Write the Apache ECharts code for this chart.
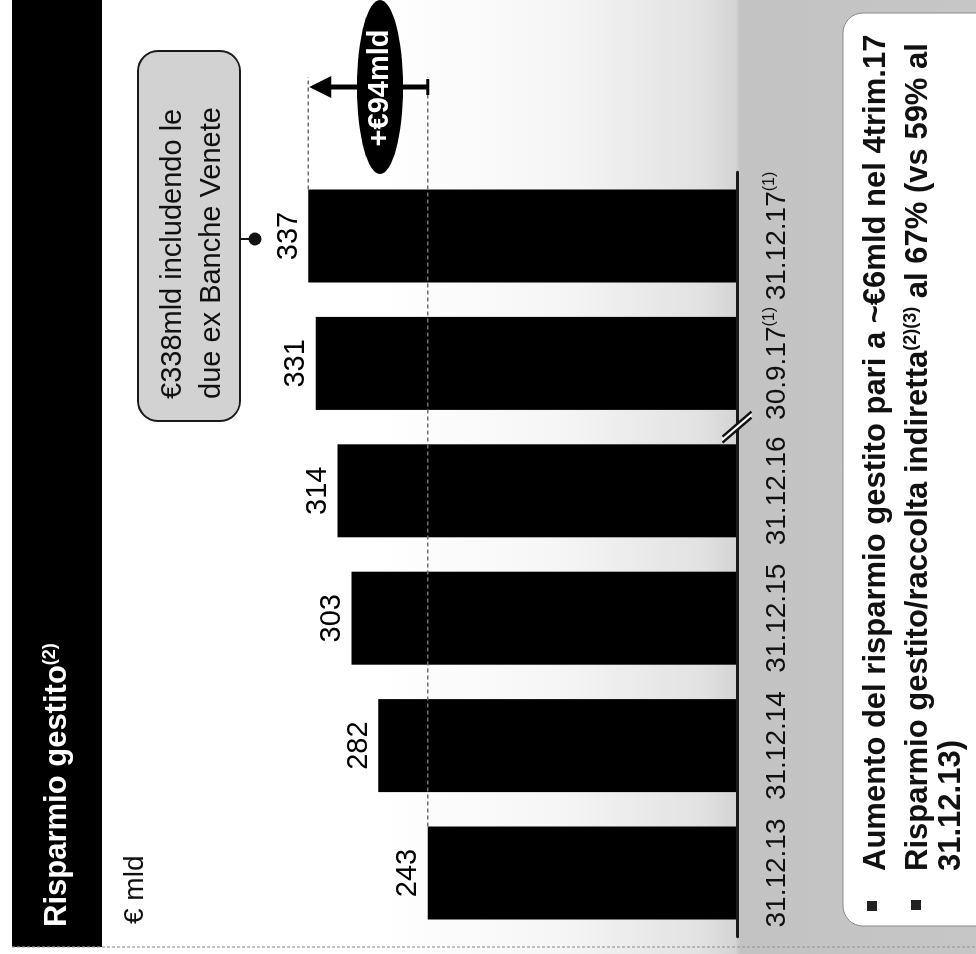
<!DOCTYPE html>
<html><head><meta charset="utf-8">
<script src="https://cdn.jsdelivr.net/npm/echarts@6/dist/echarts.min.js"></script>
<style>
html,body{margin:0;padding:0;width:976px;height:954px;overflow:hidden;background:#fff;}
#c{position:absolute;left:0;top:0;width:954px;height:976px;transform-origin:0 0;transform:translateY(954px) rotate(-90deg);}
</style></head><body><div id="c"></div>
<script>
// ---- data ----
const categories = ['31.12.13', '31.12.14', '31.12.15', '31.12.16', '30.9.17', '31.12.17'];
const categoryNotes = ['', '', '', '', '(1)', '(1)'];
const values = [243, 282, 303, 314, 331, 337];
const valueMin = 0;
const valueMax = 400;
const titleText = 'Risparmio gestito';
const titleNote = '(2)';
const unitText = '€ mld';
const calloutLines = ['€338mld includendo le', 'due ex Banche Venete'];
const bullet1 = 'Aumento del risparmio gestito pari a ~€6mld nel 4trim.17';
const bullet2a = 'Risparmio gestito/raccolta indiretta';
const bullet2Note = '(2)(3)';
const bullet2b = ' al 67% (vs 59% al';
const bullet2c = '31.12.13)';

const FONT = '"Liberation Sans", Arial, Helvetica, sans-serif';
const chart = echarts.init(document.getElementById('c'), null, {renderer: 'canvas', width: 954, height: 976});

chart.setOption({
  animation: false,
  textStyle: {fontFamily: FONT},
  grid: {left: 17.3, right: 172.3, top: 228, bottom: 239, containLabel: false},
  xAxis: {
    type: 'category', data: categories, z: 5,
    axisLine: {show: true, lineStyle: {color: '#1a1a1a', width: 3}},
    axisTick: {show: false},
    axisLabel: {
      interval: 0, margin: 25, color: '#111', fontFamily: FONT,
      formatter: (v, i) => categoryNotes[i] ? '{a|' + v + '}{s|' + categoryNotes[i] + '}' : '{a|' + v + '}',
      rich: {
        a: {fontSize: 28, lineHeight: 30, fontFamily: FONT, color: '#111'},
        s: {fontSize: 16, lineHeight: 17, verticalAlign: 'top', fontFamily: FONT, color: '#111'}
      }
    }
  },
  yAxis: {type: 'value', min: valueMin, max: valueMax, show: false},
  series: [{
    type: 'bar', data: values, barWidth: 93, z: 2,
    itemStyle: {color: '#000'},
    label: {show: true, position: 'top', distance: 5, fontSize: 29, color: '#000', fontFamily: FONT}
  }]
});

const px = (i, v) => chart.convertToPixel({gridIndex: 0}, [i, v]);
const last = values.length - 1;
const p0 = px(0, values[0]);
const pL = px(last, values[last]);
const vFirst = p0[1], vLast = pL[1];
const axisV = px(0, 0)[1];
const halfBar = 93 / 2;
const brkU = (px(3, 0)[0] + px(4, 0)[0]) / 2;
const arrowU = 867;
const deltaText = '+€' + (values[last] - values[0]) + 'mld';

const bgGrad = new echarts.graphic.LinearGradient(0, 0, 0, 1, [
  {offset: 0, color: '#ffffff'},
  {offset: 0.30, color: '#f6f6f6'},
  {offset: 0.537, color: '#e2e2e2'},
  {offset: 0.597, color: '#d4d4d4'},
  {offset: 0.604, color: '#c3c3c3'},
  {offset: 1, color: '#c6c6c6'}
]);

const sDx = 12.5, sDy = 14.5;
chart.setOption({
  graphic: [
    // backgrounds
    {type: 'rect', z: -1, shape: {x: 0, y: 380, width: 954, height: 596}, style: {fill: bgGrad}},
    {type: 'rect', z: 1, shape: {x: 7, y: 12, width: 947, height: 90}, style: {fill: '#000'}},
    {type: 'line', z: 1, shape: {x1: 7, y1: 12, x2: 7, y2: 976}, style: {stroke: '#999', lineWidth: 1.2, lineDash: [3, 2]}},
    {type: 'rect', z: 1, shape: {x: 28, y: 843, width: 913, height: 170, r: 20}, style: {fill: '#fff', stroke: '#8a8a8a', lineWidth: 1}},
    // title
    {type: 'text', z: 3, style: {x: 27, y: 57, verticalAlign: 'middle', align: 'left',
      text: '{t|' + titleText + '}{s|' + titleNote + '}',
      rich: {t: {fontSize: 31, fontWeight: 'bold', fill: '#fff', fontFamily: FONT, lineHeight: 32},
             s: {fontSize: 18, fontWeight: 'bold', fill: '#fff', fontFamily: FONT, lineHeight: 20, verticalAlign: 'top'}}}},
    {type: 'text', z: 3, style: {x: 30, y: 135, verticalAlign: 'middle', align: 'left', text: unitText, fontSize: 28, fill: '#111', fontFamily: FONT}},
    // callout
    {type: 'rect', z: 3, shape: {x: pL[0] - 185, y: 138, width: 370, height: 102, r: 20}, style: {fill: '#d2d2d2', stroke: '#1a1a1a', lineWidth: 2}},
    {type: 'text', z: 4, style: {x: pL[0] - 163, y: 173, verticalAlign: 'middle', align: 'left', text: calloutLines[0], fontSize: 29, fill: '#111', fontFamily: FONT}},
    {type: 'text', z: 4, style: {x: pL[0] - 163, y: 212, verticalAlign: 'middle', align: 'left', text: calloutLines[1], fontSize: 29, fill: '#111', fontFamily: FONT}},
    {type: 'line', z: 4, shape: {x1: pL[0] - 3, y1: 240, x2: pL[0] - 3, y2: 252}, style: {stroke: '#111', lineWidth: 2}},
    {type: 'circle', z: 4, shape: {cx: pL[0] - 3, cy: 255, r: 6.5}, style: {fill: '#111'}},
    // dashed reference lines
    {type: 'line', z: 10, shape: {x1: p0[0] + halfBar, y1: vFirst, x2: 877, y2: vFirst}, style: {stroke: '#707070', lineWidth: 1.5, lineDash: [4, 3]}},
    {type: 'line', z: 10, shape: {x1: pL[0] + halfBar, y1: vLast, x2: 877, y2: vLast}, style: {stroke: '#707070', lineWidth: 1.5, lineDash: [4, 3]}},
    // arrow
    {type: 'line', z: 11, shape: {x1: arrowU, y1: vFirst, x2: arrowU, y2: vLast + 22}, style: {stroke: '#000', lineWidth: 5}},
    {type: 'polygon', z: 11, shape: {points: [[arrowU - 11, vLast + 23], [arrowU + 11, vLast + 23], [arrowU, vLast + 1]]}, style: {fill: '#000'}},
    {type: 'line', z: 11, shape: {x1: arrowU - 8, y1: vFirst, x2: arrowU + 8, y2: vFirst}, style: {stroke: '#000', lineWidth: 3}},
    {type: 'ellipse', z: 12, shape: {cx: arrowU, cy: 380, rx: 87, ry: 23}, style: {fill: '#000'}},
    {type: 'text', z: 13, style: {x: arrowU - 1, y: 380, align: 'center', verticalAlign: 'middle', text: deltaText, fontSize: 29, fontWeight: 'bold', fill: '#fff', fontFamily: FONT}},
    // axis break
    {type: 'polygon', z: 12, shape: {points: [[brkU - sDx - 3, axisV - sDy], [brkU - sDx + 3, axisV - sDy], [brkU + sDx + 3, axisV + sDy], [brkU + sDx - 3, axisV + sDy]]}, style: {fill: '#fff'}},
    {type: 'line', z: 13, shape: {x1: brkU - sDx - 3, y1: axisV - sDy, x2: brkU + sDx - 3, y2: axisV + sDy}, style: {stroke: '#111', lineWidth: 2.5}},
    {type: 'line', z: 13, shape: {x1: brkU - sDx + 3, y1: axisV - sDy, x2: brkU + sDx + 3, y2: axisV + sDy}, style: {stroke: '#111', lineWidth: 2.5}},
    // bullets
    {type: 'rect', z: 3, shape: {x: 43, y: 867, width: 10, height: 10}, style: {fill: '#222'}},
    {type: 'rect', z: 3, shape: {x: 44, y: 911, width: 10, height: 10}, style: {fill: '#222'}},
    {type: 'text', z: 3, style: {x: 83, y: 876, verticalAlign: 'middle', align: 'left', text: bullet1, fontSize: 31, fontWeight: 'bold', fill: '#111', fontFamily: FONT}},
    {type: 'text', z: 3, style: {x: 83, y: 918, verticalAlign: 'middle', align: 'left',
      text: '{a|' + bullet2a + '}{s|' + bullet2Note + '}{a|' + bullet2b + '}',
      rich: {a: {fontSize: 31, fontWeight: 'bold', fill: '#111', fontFamily: FONT, lineHeight: 32},
             s: {fontSize: 18, fontWeight: 'bold', fill: '#111', fontFamily: FONT, lineHeight: 19, verticalAlign: 'top'}}}},
    {type: 'text', z: 3, style: {x: 83, y: 951, verticalAlign: 'middle', align: 'left', text: bullet2c, fontSize: 31, fontWeight: 'bold', fill: '#111', fontFamily: FONT}}
  ]
});
</script></body></html>
